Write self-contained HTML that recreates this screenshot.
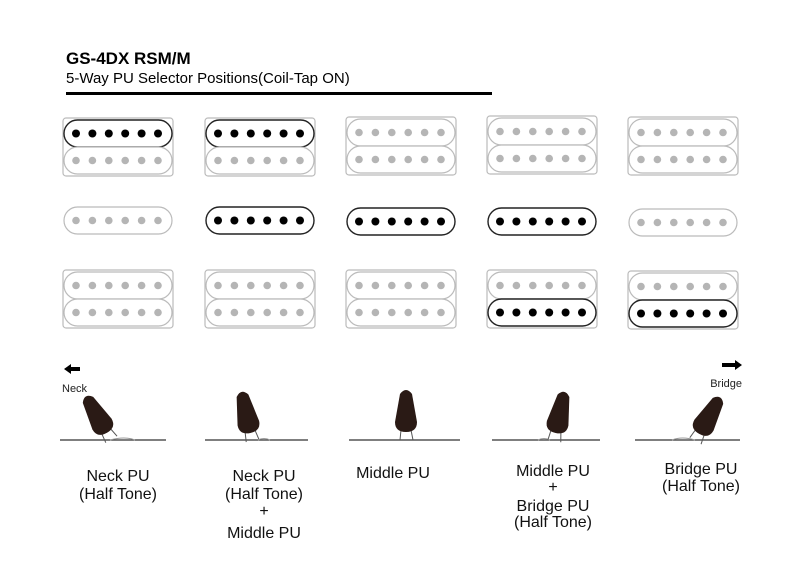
<!DOCTYPE html>
<html><head><meta charset="utf-8"><style>
html,body{margin:0;padding:0;background:#fff;}
svg{display:block;font-family:"Liberation Sans",sans-serif;}
</style></head><body>
<svg width="800" height="587" viewBox="0 0 800 587" xmlns="http://www.w3.org/2000/svg">
<defs>
<g id="ci">
<rect x="0" y="0" width="108" height="27" rx="13.5" fill="#fff" stroke="#bbb" stroke-width="1.2"/>
<g fill="#b5b5b5"><circle cx="12" cy="13.5" r="3.8"/><circle cx="28.4" cy="13.5" r="3.8"/><circle cx="44.8" cy="13.5" r="3.8"/><circle cx="61.2" cy="13.5" r="3.8"/><circle cx="77.6" cy="13.5" r="3.8"/><circle cx="94" cy="13.5" r="3.8"/></g>
</g>
<g id="ca">
<rect x="0" y="0" width="108" height="27" rx="13.5" fill="#fff" stroke="#222" stroke-width="1.4"/>
<g fill="#000"><circle cx="12" cy="13.5" r="4"/><circle cx="28.4" cy="13.5" r="4"/><circle cx="44.8" cy="13.5" r="4"/><circle cx="61.2" cy="13.5" r="4"/><circle cx="77.6" cy="13.5" r="4"/><circle cx="94" cy="13.5" r="4"/></g>
</g>
<rect id="fr" x="-1" y="-2" width="110" height="58" rx="3" fill="#fff" stroke="#bbb" stroke-width="1.2"/>
<g id="knob">
<line x1="-5" y1="0" x2="-6" y2="10" stroke="#555" stroke-width="1"/>
<line x1="5" y1="0" x2="7" y2="10" stroke="#555" stroke-width="1"/>
<path d="M-11,-8 Q-11,2 0,2 Q11,2 11,-8 L6,-36 Q0,-44 -6,-36 Z" fill="#2a1a15"/>
</g>
</defs>

<text x="66" y="64" font-size="17" font-weight="bold" fill="#000">GS-4DX RSM/M</text>
<text x="66" y="83" font-size="15" fill="#000">5-Way PU Selector Positions(Coil-Tap ON)</text>
<rect x="66" y="92" width="426" height="3" fill="#000"/>

<g transform="translate(64,120)"><use href="#fr"/><use href="#ca" y="0"/><use href="#ci" y="27"/></g>
<g transform="translate(64,207)"><use href="#ci"/></g>
<g transform="translate(64,272)"><use href="#fr"/><use href="#ci" y="0"/><use href="#ci" y="27"/></g>
<g transform="translate(206,120)"><use href="#fr"/><use href="#ca" y="0"/><use href="#ci" y="27"/></g>
<g transform="translate(206,207)"><use href="#ca"/></g>
<g transform="translate(206,272)"><use href="#fr"/><use href="#ci" y="0"/><use href="#ci" y="27"/></g>
<g transform="translate(347,119)"><use href="#fr"/><use href="#ci" y="0"/><use href="#ci" y="27"/></g>
<g transform="translate(347,208)"><use href="#ca"/></g>
<g transform="translate(347,272)"><use href="#fr"/><use href="#ci" y="0"/><use href="#ci" y="27"/></g>
<g transform="translate(488,118)"><use href="#fr"/><use href="#ci" y="0"/><use href="#ci" y="27"/></g>
<g transform="translate(488,208)"><use href="#ca"/></g>
<g transform="translate(488,272)"><use href="#fr"/><use href="#ci" y="0"/><use href="#ca" y="27"/></g>
<g transform="translate(629,119)"><use href="#fr"/><use href="#ci" y="0"/><use href="#ci" y="27"/></g>
<g transform="translate(629,209)"><use href="#ci"/></g>
<g transform="translate(629,273)"><use href="#fr"/><use href="#ci" y="0"/><use href="#ca" y="27"/></g>

<path d="M64,369 L71,364 L71,367 L80,367 L80,371 L71,371 L71,374 Z" fill="#000"/>
<text x="62" y="392" font-size="11" fill="#222">Neck</text>
<path d="M742,365 L735,360 L735,363 L722,363 L722,367 L735,367 L735,370 Z" fill="#000"/>
<text x="742" y="387" font-size="11" fill="#222" text-anchor="end">Bridge</text>

<g stroke="#333" stroke-width="1.3">
<line x1="60" y1="440" x2="166" y2="440"/>
<line x1="205" y1="440" x2="308" y2="440"/>
<line x1="349" y1="440" x2="460" y2="440"/>
<line x1="492" y1="440" x2="600" y2="440"/>
<line x1="635" y1="440" x2="740" y2="440"/>
</g>
<path d="M110,440 Q125,436 135,440" stroke="#999" fill="none" stroke-width="1"/>
<path d="M258,440 Q264,437 270,440" stroke="#999" fill="none" stroke-width="1"/>
<path d="M538,440 Q544,437 550,440" stroke="#999" fill="none" stroke-width="1"/>
<path d="M672,440 Q682,436 695,440" stroke="#999" fill="none" stroke-width="1"/>

<use href="#knob" transform="translate(106,431) rotate(-30)"/>
<use href="#knob" transform="translate(250,431) rotate(-12)"/>
<use href="#knob" transform="translate(406,430)"/>
<use href="#knob" transform="translate(556,431) rotate(12)"/>
<use href="#knob" transform="translate(700,432) rotate(30)"/>

<g font-size="16" fill="#111" text-anchor="middle">
<text x="118" y="481">Neck PU</text>
<text x="118" y="499">(Half Tone)</text>
<text x="264" y="481">Neck PU</text>
<text x="264" y="499">(Half Tone)</text>
<text x="264" y="516">+</text>
<text x="264" y="538">Middle PU</text>
<text x="393" y="478">Middle PU</text>
<text x="553" y="476">Middle PU</text>
<text x="553" y="492">+</text>
<text x="553" y="511">Bridge PU</text>
<text x="553" y="527">(Half Tone)</text>
<text x="701" y="474">Bridge PU</text>
<text x="701" y="491">(Half Tone)</text>
</g>
</svg>
</body></html>
